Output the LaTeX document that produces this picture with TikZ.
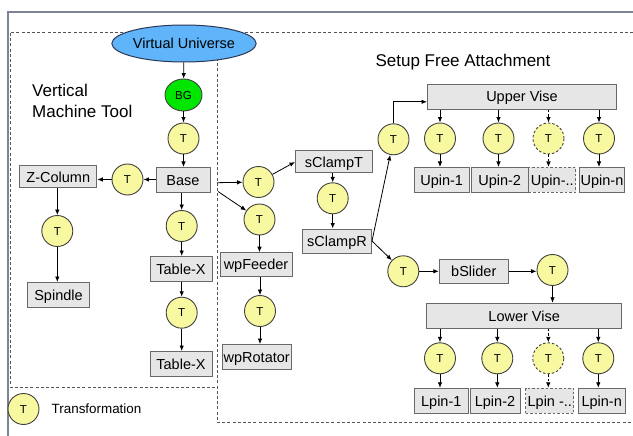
\documentclass[tikz,border=0pt]{standalone}
\usepackage{fontspec}
\setmainfont{Liberation Sans}
\usetikzlibrary{arrows.meta,shapes.geometric,calc}
\definecolor{boxfill}{RGB}{230,230,230}
\definecolor{boxdraw}{RGB}{105,105,105}
\definecolor{tfill}{RGB}{248,248,160}
\definecolor{bgfill}{RGB}{0,230,0}
\definecolor{vufill}{RGB}{95,180,250}
\definecolor{vudraw}{RGB}{45,55,85}
\definecolor{dashcol}{RGB}{85,85,85}
\definecolor{framecol}{RGB}{125,132,150}
\begin{document}
\begin{tikzpicture}[x=1pt,y=-1pt,
  box/.style={draw=boxdraw,fill=boxfill,line width=1pt,inner sep=0pt,
    font=\fontsize{14.5}{16}\selectfont,text height=10.4pt,text depth=0pt},
  dbox/.style={box,dash pattern=on 2.5pt off 2pt},
  tnode/.style={circle,draw=black!75,fill=tfill,line width=0.9pt,minimum size=31pt,inner sep=0pt,
    font=\fontsize{11.5}{13}\selectfont,text height=8.2pt,text depth=0pt},
  dtnode/.style={tnode,dash pattern=on 2.5pt off 2pt},
  arr/.style={-{Latex[length=5.5pt,width=4.5pt]},line width=0.8pt,black},
  darr/.style={arr,dash pattern=on 2.5pt off 2pt},
  region/.style={draw=dashcol,dash pattern=on 3pt off 2.2pt,line width=0.9pt},
  heading/.style={font=\fontsize{17}{21}\selectfont,inner sep=0pt}
]
\useasboundingbox (0,0) rectangle (633,436);
% frame and regions
\draw[framecol,line width=1.2pt] (8,436) -- (8,12) -- (633,12);
\draw[region] (633,32) -- (10,32) -- (10,387) -- (217,387);
\draw[region] (217,32) -- (217,422) -- (633,422);

% headings
\node[heading,anchor=west,align=left] (hvmt) at (32,101.3) {Vertical\\Machine Tool};
\node[heading,anchor=base] (hsfa) at (463,67) {Setup Free Attachment};

% left tree
\node[ellipse,draw=vudraw,fill=vufill,line width=1pt,minimum width=124pt,minimum height=37pt,inner sep=0pt,
  font=\fontsize{14.5}{16}\selectfont] (VU) at (184,43.5) {Virtual Universe};
\node[ellipse,draw=black!75,fill=bgfill,line width=0.9pt,minimum width=37pt,minimum height=32pt,inner sep=0pt,
  font=\fontsize{11.5}{13}\selectfont,text height=8.2pt,text depth=0pt] (BG) at (183.5,95) {BG};
\node[tnode] (T0) at (183.5,138.5) {T};
\node[box,minimum width=54pt,minimum height=25pt] (Base) at (183,180) {Base};
\node[tnode] (Tz) at (127.5,179.5) {T};
\node[box,minimum width=77pt,minimum height=22pt] (ZC) at (58.3,177) {Z-Column};
\node[tnode] (Tz2) at (57.3,231) {T};
\node[box,minimum width=62pt,minimum height=25pt] (Sp) at (58.5,295) {Spindle};
\node[tnode] (Tb) at (181.7,226) {T};
\node[box,minimum width=62pt,minimum height=25pt] (TX1) at (181,269) {Table-X};
\node[tnode] (Tb2) at (181.7,312.7) {T};
\node[box,minimum width=62pt,minimum height=25pt] (TX2) at (181,364) {Table-X};

\draw[arr] (VU) -- (BG);
\draw[arr] (BG) -- (T0);
\draw[arr] (T0) -- (T0 |- Base.north);
\draw[arr] (Base.west |- Tz) -- (Tz);
\draw[arr] (Tz) -- (Tz -| ZC.east);
\draw[arr] (ZC.south -| Tz2) -- (Tz2);
\draw[arr] (Tz2) -- (Tz2 |- Sp.north);
\draw[arr] (Base.south -| Tb) -- (Tb);
\draw[arr] (Tb) -- (Tb |- TX1.north);
\draw[arr] (TX1.south -| Tb2) -- (Tb2);
\draw[arr] (Tb2) -- (Tb2 |- TX2.north);

% legend
\node[tnode] (legT) at (23.5,409) {T};
\node[anchor=west,inner sep=0pt,font=\fontsize{13.4}{15}\selectfont] (legtxt) at (51.5,409) {Transformation};

% right part
\coordinate (c1) at (217,182.7);
\coordinate (c2) at (218,191.5);
\node[tnode] (T1) at (258.5,182) {T};
\node[tnode] (T2) at (259.5,219.5) {T};
\node[box,minimum width=77pt,minimum height=22pt] (sCT) at (334,162) {sClampT};
\node[tnode] (Ts) at (332.7,198.3) {T};
\node[box,minimum width=69pt,minimum height=24pt] (sCR) at (337,241) {sClampR};
\node[box,minimum width=72pt,minimum height=24pt] (wpF) at (256,264.7) {wpFeeder};
\node[tnode] (Tw) at (260,311) {T};
\node[box,minimum width=69pt,minimum height=25pt] (wpR) at (256.7,357) {wpRotator};

\draw[arr] (c1) -- (T1);
\draw[arr] (c2) -- (T2);
\draw[arr] (T1) -- (sCT.west);
\draw[arr] (sCT.south -| Ts) -- (Ts);
\draw[arr] (Ts) -- (Ts |- sCR.north);
\draw[arr] (T2) -- (T2 |- wpF.north);
\draw[arr] (wpF.south -| Tw) -- (Tw);
\draw[arr] (Tw) -- (Tw |- wpR.north);

% upper vise
\node[tnode] (T3) at (393.5,139.3) {T};
\node[box,minimum width=189pt,minimum height=25pt] (UV) at (522,96.8) {Upper Vise};
\draw[arr] (sCR.east) -- (T3);
\draw[arr] (T3.north) |- ($(UV.west)+(0,5)$);

\node[tnode] (Ua) at (440,138.5) {T};
\node[tnode] (Ub) at (498.5,138.5) {T};
\node[dtnode] (Uc) at (548.5,138.5) {T};
\node[tnode] (Ud) at (599,138.5) {T};
\node[box,minimum width=54.7pt,minimum height=25pt] (Upa) at (441.7,180) {Upin-1};
\node[box,minimum width=57pt,minimum height=25pt] (Upb) at (499.7,180) {Upin-2};
\node[dbox,minimum width=46.7pt,minimum height=25pt] (Upc) at (552.3,180) {Upin-..};
\node[box,minimum width=45pt,minimum height=25pt] (Upd) at (602,180) {Upin-n};
\foreach \t/\p in {Ua/Upa,Ub/Upb,Ud/Upd}{
  \draw[arr] (UV.south -| \t) -- (\t);
  \draw[arr] (\t) -- (\t |- \p.north);
}
\draw[darr] (UV.south -| Uc) -- (Uc);
\draw[darr] (Uc) -- (Uc |- Upc.north);

% lower vise
\node[tnode] (T4) at (403.3,271.3) {T};
\node[box,minimum width=69pt,minimum height=24pt] (bS) at (473.8,271.3) {bSlider};
\node[tnode] (T5) at (552.5,270) {T};
\node[box,minimum width=195pt,minimum height=25pt] (LV) at (524.2,315.8) {Lower Vise};
\draw[arr] (sCR.east) -- (T4);
\draw[arr] (T4) -- (bS);
\draw[arr] (bS.east) -- (T5.west |- bS.east);
\draw[arr] (T5) -- (T5 |- LV.north);

\node[tnode] (La) at (440,358.3) {T};
\node[tnode] (Lb) at (497.3,358.3) {T};
\node[dtnode] (Lc) at (548.3,358.3) {T};
\node[tnode] (Ld) at (598.3,358.3) {T};
\node[box,minimum width=54pt,minimum height=25pt] (Lpa) at (441.3,400.8) {Lpin-1};
\node[box,minimum width=50pt,minimum height=25pt] (Lpb) at (495,400.8) {Lpin-2};
\node[dbox,minimum width=48.3pt,minimum height=25pt] (Lpc) at (549.8,400.8) {Lpin -..};
\node[box,minimum width=46.7pt,minimum height=25pt] (Lpd) at (601.7,400.8) {Lpin-n};
\foreach \t/\p in {La/Lpa,Lb/Lpb,Ld/Lpd}{
  \draw[arr] (LV.south -| \t) -- (\t);
  \draw[arr] (\t) -- (\t |- \p.north);
}
\draw[darr] (LV.south -| Lc) -- (Lc);
\draw[darr] (Lc) -- (Lc |- Lpc.north);
\end{tikzpicture}
\end{document}
